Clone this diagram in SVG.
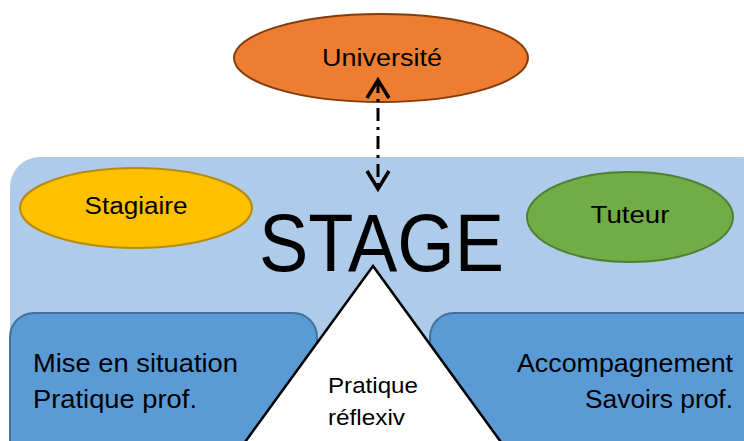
<svg xmlns="http://www.w3.org/2000/svg" width="744" height="441" viewBox="0 0 744 441">
<style>
text{font-family:"Liberation Sans",Arial,sans-serif;fill:#000}
.lbl{font-size:23px}
.box{fill:#5b9bd5;stroke:#41719c;stroke-width:2}
.conn{fill:none;stroke:#000;stroke-width:3;stroke-dasharray:13 6 3 6}
</style>
<defs>
<marker id="open" markerUnits="userSpaceOnUse" markerWidth="30" markerHeight="30" refX="22" refY="15" orient="auto-start-reverse" viewBox="0 0 30 30">
<path d="M4 4 L22 15 L4 26" fill="none" stroke="#000" stroke-width="3.5"/>
</marker>
</defs>
<rect id="stage-bg" x="10" y="157" width="760" height="320" rx="30" fill="#aecbe9"/>
<g id="stagiaire">
<ellipse cx="136" cy="208" rx="116" ry="40" fill="#ffc000" stroke="#b58c12" stroke-width="2"/>
<text class="lbl" x="136" y="214" text-anchor="middle" textLength="103" lengthAdjust="spacingAndGlyphs">Stagiaire</text>
</g>
<g id="tuteur">
<ellipse cx="630" cy="217" rx="103" ry="45" fill="#70ad47" stroke="#507e32" stroke-width="2"/>
<text class="lbl" x="630" y="223" text-anchor="middle" textLength="79" lengthAdjust="spacingAndGlyphs">Tuteur</text>
</g>
<g id="stage-title">
<text x="259" y="271" font-size="82" textLength="245" lengthAdjust="spacingAndGlyphs">STAGE</text>
</g>
<g id="universite">
<ellipse cx="381" cy="58" rx="147" ry="44" fill="#ed7d31" stroke="#843c0c" stroke-width="2"/>
<text class="lbl" x="382" y="66" text-anchor="middle" textLength="120" lengthAdjust="spacingAndGlyphs">Université</text>
</g>
<g id="mise">
<rect class="box" x="10" y="313" width="307" height="200" rx="24"/>
<text x="33" y="372" font-size="25" textLength="205" lengthAdjust="spacingAndGlyphs">Mise en situation</text>
<text x="33" y="408" font-size="25" textLength="164" lengthAdjust="spacingAndGlyphs">Pratique prof.</text>
</g>
<g id="accompagnement">
<rect class="box" x="430" y="313" width="350" height="200" rx="24"/>
<text x="733" y="372" font-size="25" text-anchor="end" textLength="216" lengthAdjust="spacingAndGlyphs">Accompagnement</text>
<text x="733" y="408" font-size="25" text-anchor="end" textLength="148" lengthAdjust="spacingAndGlyphs">Savoirs prof.</text>
</g>
<g id="pratique-reflexive">
<polygon points="373,266 232,460 514,460" fill="#fff" stroke="#000" stroke-width="2.5" stroke-linejoin="miter"/>
<text x="328" y="393" font-size="22" textLength="90" lengthAdjust="spacingAndGlyphs">Pratique</text>
<text x="328" y="425" font-size="22" textLength="77" lengthAdjust="spacingAndGlyphs">réflexiv</text>
</g>
<g id="connectors">
<line class="conn" x1="378" y1="80" x2="378" y2="189" marker-start="url(#open)" marker-end="url(#open)"/>
</g>
</svg>
